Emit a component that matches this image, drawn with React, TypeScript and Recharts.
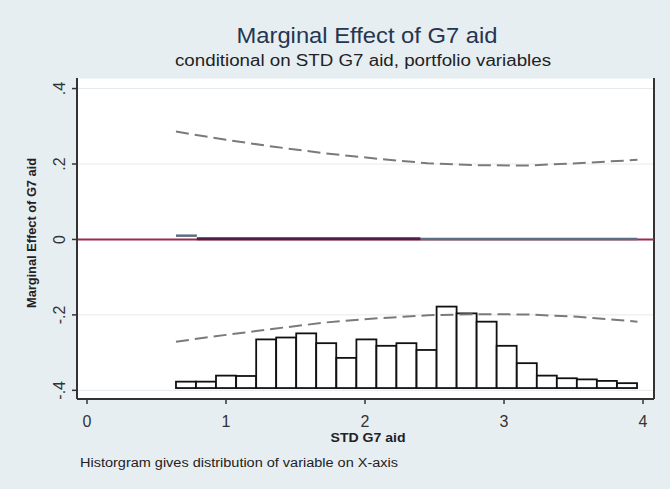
import React from 'react';
import {
  ComposedChart, Bar, Line, XAxis, YAxis, CartesianGrid, ReferenceLine
} from 'recharts';

// axes
const X_DOMAIN = [-0.072, 4.079];
const Y_DOMAIN = [-0.423, 0.428];
const X_TICKS = [0, 1, 2, 3, 4];
const Y_TICKS = [-0.4, -0.2, 0, 0.2, 0.4];
const Y_TICK_LABELS = ['-.4', '-.2', '0', '.2', '.4'];

// histogram of STD G7 aid (drawn on the effect scale, as Stata does)
const binCenters = [0.712, 0.856, 1.0, 1.145, 1.289, 1.433, 1.577, 1.721, 1.866, 2.01, 2.154, 2.298,
  2.443, 2.587, 2.731, 2.875, 3.019, 3.164, 3.308, 3.452, 3.596, 3.74, 3.885];
const binTops = [-0.377, -0.377, -0.361, -0.362, -0.265, -0.26, -0.249, -0.275, -0.314, -0.265, -0.282,
  -0.275, -0.293, -0.178, -0.196, -0.218, -0.282, -0.328, -0.361, -0.368, -0.371, -0.375, -0.381];
const HIST_BASE = -0.394;
const BIN_WIDTH_PX = 20;

// 95% confidence band
const ciX = [0.64, 1.0, 1.36, 1.72, 2.09, 2.45, 2.81, 3.17, 3.53, 3.96];
const ciUpper = [0.286, 0.264, 0.245, 0.228, 0.214, 0.202, 0.197, 0.196, 0.202, 0.211];
const ciLower = [-0.271, -0.253, -0.236, -0.22, -0.209, -0.201, -0.198, -0.199, -0.205, -0.218];

// marginal effect line, in three pieces
const meStartX = [0.64, 0.79];
const meStart = [0.01, 0.01];
const meMidX = [0.79, 2.4];
const meMid = [0.002, 0.002];
const meEndX = [2.4, 3.96];
const meEnd = [0.001, 0.001];

const rows = new Map<number, Record<string, any>>();
const put = (x: number, key: string, v: any) => {
  const r = rows.get(x) ?? { x };
  r[key] = v;
  rows.set(x, r);
};
binCenters.forEach((x, i) => put(x, 'hist', [HIST_BASE, binTops[i]]));
ciX.forEach((x, i) => { put(x, 'upper', ciUpper[i]); put(x, 'lower', ciLower[i]); });
meStartX.forEach((x, i) => put(x, 'meStart', meStart[i]));
meMidX.forEach((x, i) => put(x, 'meMid', meMid[i]));
meEndX.forEach((x, i) => put(x, 'meEnd', meEnd[i]));
const data = [...rows.values()].sort((a, b) => a.x - b.x);

const FONT = '"Liberation Sans", Arial, sans-serif';
const TEXT = '#333';

// recharts squeezes bars on a number axis, so widen each one around its centre
const HistBar = (props: any) => {
  const { x, y, width, height, payload } = props;
  if (!payload || !payload.hist || !isFinite(y) || !isFinite(height)) return <g />;
  const cx = x + width / 2;
  return (
    <rect x={cx - BIN_WIDTH_PX / 2} y={y} width={BIN_WIDTH_PX} height={height}
      fill="#fff" stroke="#111" strokeWidth={1.8} />
  );
};

const XTick = ({ x, y, payload }: any) => (
  <text x={x} y={y + 15} textAnchor="middle" dominantBaseline="central"
    fontFamily={FONT} fontSize={16} fill={TEXT}>{payload.value}</text>
);

const YTick = ({ x, y, payload }: any) => {
  const cx = x - 10;
  const i = Y_TICKS.findIndex((t) => Math.abs(t - payload.value) < 1e-9);
  return (
    <text x={cx} y={y} transform={`rotate(-90 ${cx} ${y})`} textAnchor="middle" dominantBaseline="central"
      fontFamily={FONT} fontSize={16} fill={TEXT}>{Y_TICK_LABELS[i]}</text>
  );
};

export default function App() {
  return (
    <div style={{ position: 'absolute', left: 0, top: 0, width: 670, height: 489, background: '#e7eef2' }}>
      <ComposedChart width={670} height={489} data={data} margin={{ top: 78, right: 16, bottom: 0, left: 0 }}>
        <CartesianGrid vertical={false} fill="#fff" fillOpacity={1} stroke="#e4ebef" strokeWidth={1} />
        <XAxis
          dataKey="x"
          type="number"
          domain={X_DOMAIN}
          ticks={X_TICKS}
          allowDataOverflow
          height={90}
          tick={<XTick />}
          tickSize={5}
          axisLine={{ stroke: '#333', strokeWidth: 2 }}
          tickLine={{ stroke: '#333', strokeWidth: 1.5 }}
        />
        <YAxis
          type="number"
          domain={Y_DOMAIN}
          ticks={Y_TICKS}
          allowDataOverflow
          width={77}
          tick={<YTick />}
          tickSize={5}
          axisLine={{ stroke: '#333', strokeWidth: 2 }}
          tickLine={{ stroke: '#333', strokeWidth: 1.5 }}
        />
        <ReferenceLine x={X_DOMAIN[1]} stroke="#333" strokeWidth={2} />
        <ReferenceLine y={0} stroke="#9b2d4a" strokeWidth={2} />
        <Bar dataKey="hist" barSize={BIN_WIDTH_PX} shape={<HistBar />} isAnimationActive={false} />
        <Line dataKey="upper" stroke="#7a7a7a" strokeWidth={2} strokeDasharray="13 6" dot={false}
          activeDot={false} connectNulls isAnimationActive={false} />
        <Line dataKey="lower" stroke="#7a7a7a" strokeWidth={2} strokeDasharray="13 6" dot={false}
          activeDot={false} connectNulls isAnimationActive={false} />
        <Line dataKey="meStart" stroke="#5b6f82" strokeWidth={2.5} dot={false}
          activeDot={false} connectNulls isAnimationActive={false} />
        <Line dataKey="meMid" stroke="#4b2146" strokeWidth={3} dot={false}
          activeDot={false} connectNulls isAnimationActive={false} />
        <Line dataKey="meEnd" stroke="#5b6f82" strokeWidth={2.5} dot={false}
          activeDot={false} connectNulls isAnimationActive={false} />
      </ComposedChart>
      <svg width={670} height={489} style={{ position: 'absolute', left: 0, top: 0, pointerEvents: 'none' }}>
        <text x={367} y={43} textAnchor="middle" fontFamily={FONT} fontSize={22} fill="#243650"
          textLength={261} lengthAdjust="spacingAndGlyphs">Marginal Effect of G7 aid</text>
        <text x={363} y={66} textAnchor="middle" fontFamily={FONT} fontSize={16} fill="#222"
          textLength={376} lengthAdjust="spacingAndGlyphs">conditional on STD G7 aid, portfolio variables</text>
        <text x={32} y={233} transform="rotate(-90 32 233)" textAnchor="middle" dominantBaseline="central"
          fontFamily={FONT} fontSize={12} fontWeight="bold" fill="#222"
          textLength={150} lengthAdjust="spacingAndGlyphs">Marginal Effect of G7 aid</text>
        <text x={368} y={438} textAnchor="middle" dominantBaseline="central" fontFamily={FONT} fontSize={12}
          fontWeight="bold" fill="#222" textLength={75} lengthAdjust="spacingAndGlyphs">STD G7 aid</text>
        <text x={80} y={463} dominantBaseline="central" fontFamily={FONT} fontSize={12} fill="#222"
          textLength={318} lengthAdjust="spacingAndGlyphs">Historgram gives distribution of variable on X-axis</text>
      </svg>
    </div>
  );
}
